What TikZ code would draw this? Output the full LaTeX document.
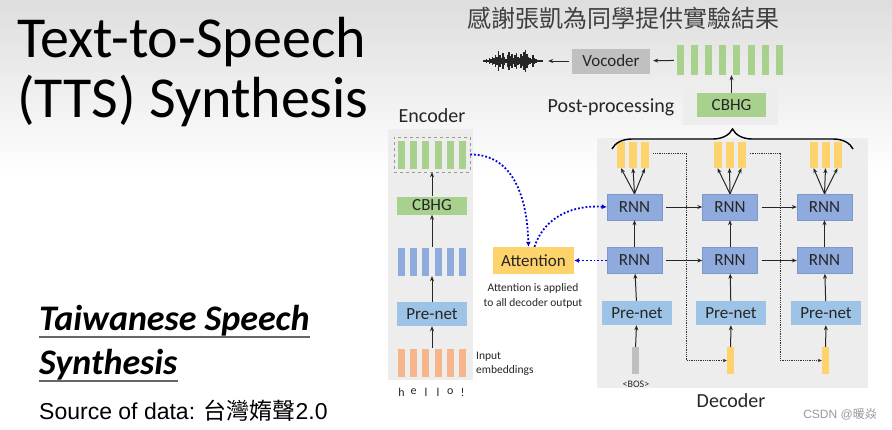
\documentclass[tikz,border=0pt]{standalone}
\usepackage{fontspec}
\setmainfont{Carlito}
\newfontfamily\arialfont{Liberation Sans}
\newfontfamily\cjk{Noto Sans CJK TC}
\usetikzlibrary{positioning, arrows.meta, decorations.pathreplacing}
\definecolor{barGreen}{HTML}{A9D18E}
\definecolor{boxBlue}{HTML}{8FAADC}
\definecolor{lineBlue}{HTML}{7F98CC}
\definecolor{netBlue}{HTML}{9DC3E6}
\definecolor{barOrange}{HTML}{F8B48A}
\definecolor{barYellow}{HTML}{FFD36B}
\definecolor{panelGray}{HTML}{EDEDED}
\definecolor{vocGray}{HTML}{C0C0C0}
\newcommand\Fs[2]{\fontsize{#1}{#2}\selectfont}

\begin{document}
\begin{tikzpicture}[x=1pt, y=-1pt,
    box/.style={inner sep=0, minimum height=24, font=\Fs{17}{20}, text=black!85},
    rnnbox/.style={box, draw=lineBlue, fill=boxBlue, minimum width=55, minimum height=26},
    netbox/.style={box, fill=netBlue, minimum width=70},
    cbhgbox/.style={box, fill=barGreen, minimum width=69},
    bar/.style={inner sep=0, minimum width=7, minimum height=28},
    grp/.style={inner sep=0},
    note/.style={inner sep=0, text=black!85},
    arr/.style={-{Stealth[length=5pt,width=4pt]}, line width=1pt, black!85},
    attarr/.style={-{Latex[length=5pt,width=5pt]}, dotted, line width=1.8pt, blue!85!black},
    feed/.style={-{Stealth[length=4pt,width=3.5pt]}, densely dotted, line width=0.8pt, black!80}
  ]
  \useasboundingbox (0,0) rectangle (892,429);
  \fill[white] (0,0) rectangle (892,429);
  \shade[top color=black!13, bottom color=white] (0,0) rectangle (892,175);

  % slide texts
  \node[anchor=base west, note, text=black, font=\Fs{58}{60}] (title1) at (17,57) {Text-to-Speech};
  \node[anchor=base west, note, text=black, font=\Fs{58}{60}] (title2) at (17,117) {(TTS) Synthesis};
  \node[anchor=base west, note, text=black, font=\Fs{36}{40}\bfseries\itshape] (tw1) at (39,330) {Taiwanese Speech};
  \node[anchor=base west, note, text=black, font=\Fs{36}{40}\bfseries\itshape] (tw2) at (39,374) {Synthesis};
  \draw[black!60, line width=1.5pt] ([yshift=-7]tw1.base west) -- ([yshift=-7]tw1.base east);
  \draw[black!60, line width=1.5pt] ([yshift=-7]tw2.base west) -- ([yshift=-7]tw2.base east);
  \node[anchor=base west, note, text=black, font=\arialfont\Fs{23}{26}] (src) at (39,419) {Source of data: {\cjk 台灣媠聲}2.0};
  \node[note, text=black!75, font=\cjk\Fs{24}{28}] (thanks) at (623,18) {感謝張凱為同學提供實驗結果};
  \node[anchor=east, note, text=black!40, font=\arialfont\Fs{12}{14}] (mark) at (877,414) {CSDN @{\cjk 暖焱}};

  % panels
  \fill[panelGray] (388,129) rectangle (473,380);
  \fill[panelGray] (597,138) rectangle (868,388);
  \fill[panelGray] (683,88) rectangle (778,125);

  % encoder
  \node[note, font=\Fs{20}{24}] (encLbl) at (432,116) {Encoder};
  \foreach \i in {0,...,5}{
    \node[bar, fill=barGreen] (eg\i) at (401.5+12.2*\i,154.5) {};
    \node[bar, fill=boxBlue] (eb\i) at (401.5+12.2*\i,261.5) {};
    \node[bar, fill=barOrange] (eo\i) at (401.5+12.2*\i,362.5) {};
  }
  \foreach \c [count=\i from 0] in {h,e,l,l,o,!}
    \node[note, font=\Fs{12}{14}] (ch\i) at (401.5+12.2*\i,392) {\c};
  \node[grp, draw=black!40, dashed, minimum width=76, minimum height=35] (encOut) at (432,154.5) {};
  \node[grp, minimum width=68, minimum height=29] (encHid) at (432,261.5) {};
  \node[grp, minimum width=68, minimum height=29] (encEmb) at (432,362.5) {};
  \node[cbhgbox, minimum width=70, minimum height=18] (encCBHG) at (432,205.5) {CBHG};
  \node[netbox] (encPre) at (432,314) {Pre-net};
  \node[note, anchor=west, align=left, font=\Fs{11.5}{14}] (embLbl) at (476,364) {Input\\embeddings};
  \draw[arr] (encEmb) -- (encPre);
  \draw[arr] (encPre) -- (encHid);
  \draw[arr] (encHid) -- (encCBHG);
  \draw[arr] (encCBHG) -- (encOut);

  % attention
  \node[box, fill=barYellow, minimum width=81, minimum height=27] (att) at (533.5,260.5) {Attention};
  \node[note, align=center, font=\Fs{11.5}{15}] (attNote) at (533,296) {Attention is applied\\to all decoder output};

  % decoder
  \node[note, font=\Fs{20}{24}] (decLbl) at (731,401) {Decoder};
  \foreach \x [count=\i] in {634.5,730,824.5}{
    \node[rnnbox] (rnnT\i) at (\x,207) {RNN};
    \node[rnnbox] (rnnB\i) at (\x,260.5) {RNN};
  }
  \foreach \x [count=\i] in {637,731,826}
    \node[netbox] (decPre\i) at (\x,313) {Pre-net};
  \foreach \x [count=\i] in {633,729.5,825.5}{
    \node[grp, minimum width=32, minimum height=26] (out\i) at (\x,155) {};
    \foreach \j in {1,2,3}
      \node[bar, minimum width=8, minimum height=26, fill=barYellow] (out\i\j) at (\x-24+12*\j,155) {};
  }
  \node[bar, fill=black!25, minimum height=27] (bos) at (635,360.5) {};
  \node[note, font=\Fs{10}{12}] (bosLbl) at (636,384) {<BOS>};
  \node[bar, fill=barYellow, minimum height=27] (fb2) at (730.5,360.5) {};
  \node[bar, fill=barYellow, minimum height=27] (fb3) at (825.5,360.5) {};

  \foreach \i in {1,2,3}{
    \draw[arr] (rnnB\i) -- (rnnT\i);
    \draw[arr] (decPre\i) -- (rnnB\i);
    \foreach \j in {1,2,3}
      \draw[arr] (rnnT\i.north) -- (out\i\j.south);
  }
  \draw[arr] (bos) -- (decPre1);
  \draw[arr] (fb2) -- (decPre2);
  \draw[arr] (fb3) -- (decPre3);
  \draw[arr, shorten <=4pt] (rnnT1) -- (rnnT2);
  \draw[arr, shorten <=4pt] (rnnT2) -- (rnnT3);
  \draw[arr, shorten <=4pt] (rnnB1) -- (rnnB2);
  \draw[arr, shorten <=4pt] (rnnB2) -- (rnnB3);
  \draw[feed] ([xshift=4,yshift=2]out1.east) -- ++(33,0) |- (fb2.west);
  \draw[feed] ([xshift=4,yshift=2]out2.east) -- ++(31,0) |- (fb3.west);

  % attention links
  \draw[attarr] (encOut.east) .. controls (512,154) and (527,195) .. ([xshift=-5]att.north);
  \draw[attarr] ([xshift=1]att.north) .. controls (545,215) and (575,205) .. (rnnT1.west);
  \draw[attarr] (rnnB1.west) -- (att.east);

  % post-processing and vocoder
  \node[grp, minimum width=62, minimum height=24] (wave) at (514,61) {};
  \foreach \h [count=\i] in {1,1,2,1,3,2,4,3,6,4,10,6,3,8,4,2,6,9,5,7,3,6,8,4,3,7,5,9,11,7,4,3,2,6,3,2,1,1,1,1}
    \draw[black!85, line width=1.4pt] (482+1.5*\i,61-\h) -- (482+1.5*\i,61+\h);
  \node[box, fill=vocGray, minimum width=78, minimum height=25] (voc) at (611,61) {Vocoder};
  \foreach \i in {0,...,7}
    \node[bar, fill=barGreen, minimum height=30] (mel\i) at (680.5+14.1*\i,60) {};
  \node[grp, minimum width=106, minimum height=30] (melOut) at (730,60) {};
  \node[cbhgbox] (postCBHG) at (731.5,105) {CBHG};
  \node[note, font=\Fs{20}{24}] (postLbl) at (611,107) {Post-processing};
  \draw[arr, shorten <=3pt, shorten >=3pt] (voc) -- (wave);
  \draw[arr, shorten <=3pt, shorten >=3pt] (melOut) -- (voc);
  \draw[arr] (postCBHG.north) -- (postCBHG.north |- melOut.south);
  \coordinate (braceL) at (612,149);
  \coordinate (braceR) at (853,149);
  \draw[decorate, decoration={brace, amplitude=20pt}, line width=1.4pt] (braceL) -- (braceR);
\end{tikzpicture}
\end{document}
